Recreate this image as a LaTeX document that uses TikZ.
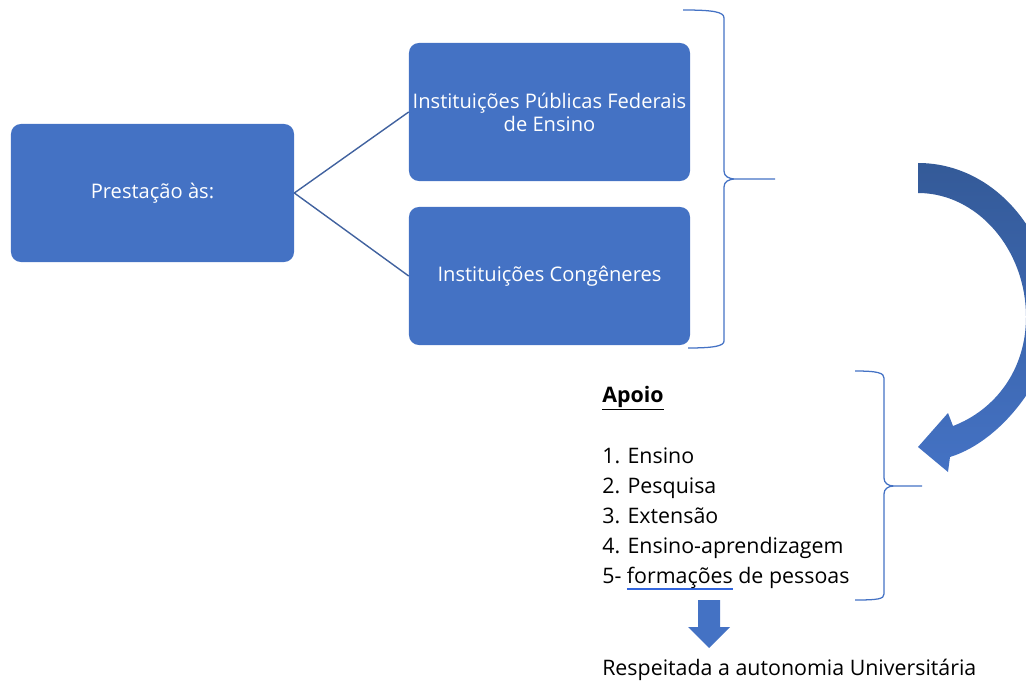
\documentclass[tikz,border=0pt]{standalone}
\usepackage{fontspec}
\setmainfont{Open Sans}
\usetikzlibrary{positioning,calc}

\definecolor{boxblue}{HTML}{4472C4}
\definecolor{linkblue}{HTML}{41629F}
\definecolor{arrowtop}{HTML}{345A98}
\definecolor{spellblue}{HTML}{3366DD}
\newlength\spellwd
\newcommand\spellmark[1]{\settowidth\spellwd{#1}\rlap{\color{spellblue}\rule[-5pt]{\spellwd}{1.3pt}}#1}

\begin{document}
\begin{tikzpicture}[x=0.025cm, y=-0.025cm,
    blockbox/.style={rectangle, rounded corners=0.25cm, fill=boxblue, text=white,
        minimum width=7.025cm, minimum height=3.45cm, align=center, inner sep=0pt,
        font=\fontsize{14.3}{16.5}\selectfont},
    bracepath/.style={draw=boxblue, line width=0.9pt},
    listtext/.style={anchor=base west, inner sep=0pt, font=\fontsize{15.2}{18}\selectfont}]

    \useasboundingbox (0,0) rectangle (1026,682);

    \node [blockbox, minimum width=7.075cm] (prest) at (152.5, 193) {Prestação às:};
    \node [blockbox] (ipf) at (549.5, 112) {Instituições Públicas Federais\\de Ensino};
    \node [blockbox] (icong) at (549.5, 276) {Instituições Congêneres};

    \draw [linkblue, line width=1pt] (prest.east) -- (ipf.west);
    \draw [linkblue, line width=1pt] (prest.east) -- (icong.west);

    % chaves
    \coordinate (tip1) at (775, 179);
    \coordinate (tip2) at (922, 486);
    \draw [bracepath] (683,10) .. controls (714,10) and (724,12) .. (724,18) -- (724,171)
        .. controls (724,176) and (728,179) .. (736,179) -- (tip1) -- (736,179)
        .. controls (728,179) and (724,182) .. (724,187) -- (724,341)
        .. controls (724,346) and (714,348) .. (688,348);
    \draw [bracepath] (855,371) .. controls (878,371) and (884,373) .. (884,378) -- (884,478)
        .. controls (884,483) and (888,486) .. (894,486) -- (tip2) -- (894,486)
        .. controls (888,486) and (884,489) .. (884,494) -- (884,594)
        .. controls (884,599) and (878,600) .. (855,600);

    % seta curva
    \begin{scope}
        \clip (0,0) rectangle (1026,682);
        \shade [top color=arrowtop, bottom color=boxblue]
            (918,163) .. controls (995,163) and (1054,235) .. (1054,317)
            .. controls (1054,370) and (1005,440) .. (950,457)
            -- (948,472) -- (918,447) -- (948,413) -- (953,426)
            .. controls (995,410) and (1026,370) .. (1026,317)
            .. controls (1026,249) and (977,193) .. (918,193) -- cycle;
    \end{scope}

    \node [listtext, font=\fontsize{15.2}{18}\selectfont\bfseries] (apoio) at (602, 402) {\underline{Apoio}};
    \foreach \txt [count=\i] in {1. Ensino, 2. Pesquisa, 3. Extensão, 4. Ensino-aprendizagem}
        \node [listtext] (item\i) at (602, 433 + 30*\i) {\txt};
    \node [listtext] (item5) at (602, 583) {5- \spellmark{formações} de pessoas};

    \fill [boxblue] (698,600) -- (720,600) -- (720,627) -- (730,627) -- (709,648)
        -- (688,627) -- (698,627) -- cycle;

    \node [listtext] (autonomia) at (602, 675) {Respeitada a autonomia Universitária};

\end{tikzpicture}
\end{document}
